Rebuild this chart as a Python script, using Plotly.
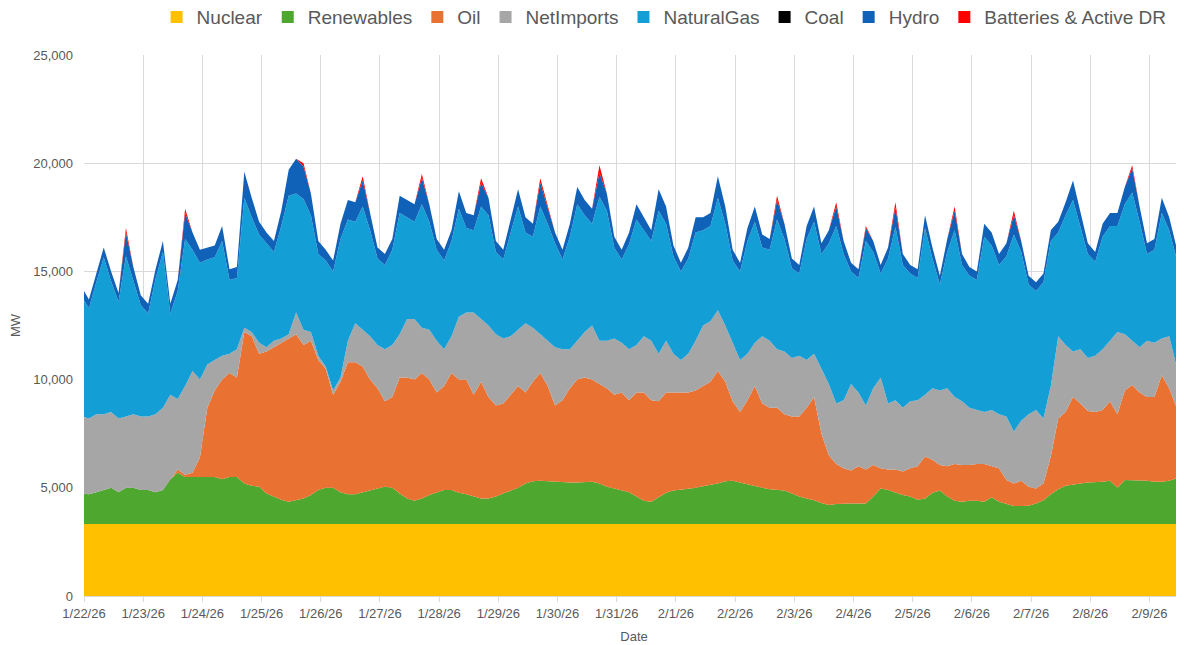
import pandas as pd
import plotly.graph_objects as go

# Sample times (every 3 hours)
times = pd.date_range("2026-01-21 23:00", periods=150, freq="3h")

# Stack boundaries, in thousands of MW (top edge of each layer)
nuclear_level_k = 3.33

renewables_top_k = [
    4.74,
    4.7, 4.8, 4.9, 5.0, 4.8, 5.0, 5.0, 4.9,
    4.9, 4.8, 4.9, 5.4, 5.7, 5.5, 5.5, 5.5,
    5.5, 5.5, 5.4, 5.5, 5.5, 5.2, 5.1, 5.05,
    4.74, 4.6, 4.45, 4.36, 4.43, 4.5, 4.67, 4.9,
    5.0, 5.0, 4.8, 4.7, 4.7, 4.8, 4.87, 4.97,
    5.05, 5.0, 4.74, 4.5, 4.4, 4.5, 4.67, 4.8,
    4.9, 4.9, 4.77, 4.7, 4.6, 4.5, 4.5, 4.6,
    4.74, 4.87, 5.0, 5.2, 5.3, 5.33, 5.3, 5.27,
    5.24, 5.24, 5.24, 5.27, 5.28, 5.2, 5.05, 4.97,
    4.9, 4.8, 4.6, 4.4, 4.36, 4.56, 4.77, 4.87,
    4.9, 4.96, 5.0, 5.08, 5.14, 5.2, 5.3, 5.33,
    5.24, 5.17, 5.08, 5.0, 4.93, 4.9, 4.87, 4.74,
    4.6, 4.5, 4.43, 4.3, 4.2, 4.25, 4.28, 4.28,
    4.28, 4.28, 4.6, 4.97, 4.9, 4.77, 4.67, 4.6,
    4.45, 4.5, 4.77, 4.87, 4.6, 4.4, 4.36, 4.4,
    4.4, 4.36, 4.56, 4.36, 4.25, 4.16, 4.16, 4.17,
    4.28, 4.43, 4.7, 4.93, 5.1, 5.16, 5.2, 5.24,
    5.25, 5.28, 5.33, 5.0, 5.36, 5.36, 5.36, 5.33,
    5.28, 5.28, 5.33, 5.44, 5.4,
]

oil_top_k = [
    4.74,
    4.7, 4.8, 4.9, 5.0, 4.8, 5.0, 5.0, 4.9,
    4.9, 4.8, 4.9, 5.4, 5.85, 5.6, 5.7, 6.4,
    8.7, 9.5, 10.0, 10.3, 10.1, 12.2, 12.0, 11.2,
    11.3, 11.5, 11.7, 11.9, 12.1, 11.6, 11.8, 10.9,
    10.5, 9.3, 9.9, 10.8, 10.8, 10.6, 10.0, 9.6,
    9.0, 9.2, 10.1, 10.1, 10.0, 10.3, 10.0, 9.4,
    9.7, 10.3, 10.0, 10.0, 9.3, 9.9, 9.2, 8.8,
    8.9, 9.3, 9.7, 9.4, 9.9, 10.3, 9.7, 8.8,
    9.05, 9.6, 10.0, 10.1, 10.0, 9.8, 9.6, 9.3,
    9.4, 9.05, 9.4, 9.4, 9.05, 9.0, 9.4, 9.4,
    9.4, 9.4, 9.5, 9.7, 9.9, 10.4, 9.9, 9.0,
    8.5, 9.05, 9.7, 8.9, 8.7, 8.7, 8.4, 8.3,
    8.3, 8.7, 9.2, 7.5, 6.5, 6.1, 5.9, 5.8,
    6.0, 5.85, 6.05, 5.9, 5.85, 5.85, 5.75, 5.9,
    6.0, 6.45, 6.3, 6.05, 6.0, 6.1, 6.05, 6.05,
    6.1, 6.1, 6.0, 5.9, 5.36, 5.2, 5.33, 5.05,
    4.97, 5.2, 6.45, 8.2, 8.5, 9.2, 8.9, 8.55,
    8.5, 8.6, 9.0, 8.4, 9.5, 9.75, 9.4, 9.2,
    9.2, 10.2, 9.6, 8.7, 8.0,
]

netimports_top_k = [
    8.3,
    8.2, 8.4, 8.4, 8.5, 8.2, 8.3, 8.4, 8.3,
    8.3, 8.4, 8.7, 9.3, 9.1, 9.7, 10.4, 10.0,
    10.7, 10.9, 11.1, 11.2, 11.4, 12.4, 12.2, 11.7,
    11.5, 11.8, 11.9, 12.1, 13.1, 12.3, 12.2, 11.1,
    10.6, 9.5, 10.1, 11.8, 12.6, 12.3, 12.0, 11.6,
    11.4, 11.6, 12.1, 12.8, 12.8, 12.4, 12.3, 11.8,
    11.4, 12.0, 12.9, 13.1, 13.1, 12.8, 12.5, 12.1,
    11.9, 12.0, 12.3, 12.6, 12.4, 12.1, 11.8, 11.5,
    11.4, 11.4, 11.8, 12.2, 12.5, 11.8, 11.8, 11.9,
    11.7, 11.4, 11.6, 12.0, 11.8, 11.2, 11.8, 11.2,
    10.9, 11.2, 11.8, 12.5, 12.7, 13.2, 12.5, 11.7,
    10.9, 11.2, 11.7, 12.0, 11.8, 11.4, 11.3, 11.0,
    11.1, 10.9, 11.2, 10.5, 9.8, 8.9, 9.05, 9.8,
    9.4, 8.8, 9.6, 10.1, 8.9, 9.05, 8.7, 9.0,
    9.05, 9.3, 9.6, 9.5, 9.6, 9.2, 9.0, 8.7,
    8.6, 8.5, 8.6, 8.4, 8.3, 7.6, 8.1, 8.4,
    8.6, 8.2, 9.7, 12.0, 11.6, 11.3, 11.4, 11.0,
    11.1, 11.4, 11.8, 12.2, 12.1, 11.8, 11.5, 11.8,
    11.7, 11.9, 12.0, 10.6, 9.5,
]

total_top_k = [
    14.3,
    13.7, 14.9, 16.1, 15.0, 14.0, 17.0, 15.2, 13.9,
    13.5, 15.1, 16.4, 13.5, 14.6, 17.9, 16.8, 16.0,
    16.1, 16.2, 17.1, 15.1, 15.2, 19.6, 18.4, 17.3,
    16.8, 16.4, 17.8, 19.7, 20.2, 20.0, 18.6, 16.4,
    16.0, 15.5, 17.2, 18.3, 18.2, 19.4, 17.7, 16.1,
    15.8, 16.5, 18.5, 18.3, 18.1, 19.5, 18.1, 16.5,
    16.0, 16.9, 18.7, 17.7, 17.6, 19.3, 18.4, 16.4,
    16.0, 17.4, 18.8, 17.5, 17.2, 19.3, 18.0, 16.8,
    16.0, 17.2, 18.9, 18.3, 17.9, 19.9, 18.6, 16.6,
    16.0, 16.8, 18.1, 17.5, 16.9, 18.8, 18.0, 16.2,
    15.4, 16.1, 17.5, 17.5, 17.7, 19.4, 18.0, 16.0,
    15.4, 17.0, 18.0, 16.7, 16.5, 18.5, 17.2, 15.6,
    15.3, 17.1, 18.0, 16.3, 16.9, 18.2, 16.4, 15.4,
    15.1, 17.1, 16.4, 15.3, 16.1, 18.2, 15.8, 15.3,
    15.1, 17.6, 16.1, 14.8, 16.5, 18.0, 15.8, 15.2,
    15.0, 17.2, 16.8, 15.8, 16.3, 17.8, 16.4, 14.8,
    14.5, 14.9, 16.9, 17.3, 18.2, 19.2, 17.8, 16.3,
    15.9, 17.2, 17.7, 17.7, 18.9, 19.9, 18.0, 16.3,
    16.5, 18.4, 17.5, 16.1, 16.5,
]

hydro_k = [
    0.45,
    0.4, 0.4, 0.45, 0.45, 0.4, 1.1, 0.6, 0.45,
    0.45, 0.45, 0.5, 0.45, 0.5, 1.2, 0.8, 0.6,
    0.55, 0.55, 0.7, 0.5, 0.5, 1.2, 0.9, 0.6,
    0.5, 0.5, 0.7, 1.2, 1.6, 1.5, 1.0, 0.6,
    0.5, 0.5, 0.7, 0.9, 0.9, 1.2, 0.8, 0.5,
    0.5, 0.5, 0.8, 0.8, 0.8, 1.2, 0.8, 0.5,
    0.5, 0.5, 0.8, 0.7, 0.7, 1.1, 0.8, 0.5,
    0.45, 0.6, 0.8, 0.7, 0.6, 1.1, 0.8, 0.5,
    0.45, 0.6, 0.8, 0.7, 0.7, 1.1, 0.8, 0.5,
    0.45, 0.55, 0.7, 0.6, 0.5, 1.0, 0.8, 0.5,
    0.4, 0.5, 0.7, 0.6, 0.6, 1.0, 0.8, 0.5,
    0.4, 0.6, 0.7, 0.6, 0.5, 0.9, 0.7, 0.45,
    0.4, 0.6, 0.7, 0.5, 0.6, 0.9, 0.6, 0.4,
    0.4, 0.6, 0.5, 0.4, 0.5, 0.9, 0.5, 0.4,
    0.4, 0.6, 0.5, 0.4, 0.6, 0.9, 0.5, 0.4,
    0.4, 0.6, 0.6, 0.5, 0.6, 0.9, 0.5, 0.4,
    0.4, 0.4, 0.5, 0.5, 0.6, 0.9, 0.7, 0.5,
    0.45, 0.6, 0.6, 0.6, 0.8, 1.1, 0.7, 0.5,
    0.5, 0.7, 0.6, 0.5, 0.5,
]

batteries_k = [
    0,
    0, 0, 0, 0, 0, 0.2, 0, 0,
    0, 0, 0, 0, 0, 0.2, 0, 0,
    0, 0, 0, 0, 0, 0, 0, 0,
    0, 0, 0, 0, 0, 0.15, 0, 0,
    0, 0, 0, 0, 0, 0.2, 0, 0,
    0, 0, 0, 0, 0, 0.2, 0, 0,
    0, 0, 0, 0, 0, 0.2, 0, 0,
    0, 0, 0, 0, 0, 0.2, 0, 0,
    0, 0, 0, 0, 0, 0.35, 0, 0,
    0, 0, 0, 0, 0, 0, 0, 0,
    0, 0, 0, 0, 0, 0, 0, 0,
    0, 0, 0, 0, 0, 0.2, 0, 0,
    0, 0, 0, 0, 0, 0.2, 0, 0,
    0, 0.1, 0, 0, 0, 0.25, 0, 0,
    0, 0, 0, 0, 0, 0.2, 0, 0,
    0, 0, 0, 0, 0, 0.2, 0, 0,
    0, 0, 0, 0, 0, 0, 0, 0,
    0, 0, 0, 0, 0, 0.15, 0, 0,
    0, 0, 0, 0, 0,
]

# Per-source MW derived from the read stack boundaries
n = len(times)
nuclear = [nuclear_level_k * 1000] * n
renewables = [(g - nuclear_level_k) * 1000 for g in renewables_top_k]
oil = [(o - g) * 1000 for o, g in zip(oil_top_k, renewables_top_k)]
netimports = [(ni - o) * 1000 for ni, o in zip(netimports_top_k, oil_top_k)]
naturalgas = [(t - b - h - ni) * 1000 for t, b, h, ni in
              zip(total_top_k, batteries_k, hydro_k, netimports_top_k)]
coal = [0] * n
hydro = [h * 1000 for h in hydro_k]
batteries = [b * 1000 for b in batteries_k]

series = [
    ("Nuclear", nuclear, "#FFC000"),
    ("Renewables", renewables, "#4EA72E"),
    ("Oil", oil, "#E97132"),
    ("NetImports", netimports, "#A6A6A6"),
    ("NaturalGas", naturalgas, "#139ED6"),
    ("Coal", coal, "#000000"),
    ("Hydro", hydro, "#0F62B8"),
    ("Batteries & Active DR", batteries, "#FF0000"),
]

fig = go.Figure()
for name, vals, color in series:
    fig.add_trace(go.Scatter(
        x=times, y=vals, name=name, stackgroup="one", mode="lines",
        line=dict(width=0, color=color), fillcolor=color, showlegend=False,
    ))
# Legend entries with square swatches
for name, vals, color in series:
    fig.add_trace(go.Scatter(
        x=[None], y=[None], name=name, mode="markers",
        marker=dict(symbol="square", size=12, color=color), showlegend=True,
    ))

font_family = "Liberation Sans, Arial, sans-serif"
grey = "#595959"
grid = "#D9D9D9"

fig.update_layout(
    width=1176, height=637,
    margin=dict(l=76, r=0, t=47, b=49, autoexpand=False),
    paper_bgcolor="white", plot_bgcolor="white",
    font=dict(family=font_family, color=grey, size=13),
    legend=dict(orientation="h", x=0.066, xanchor="left", y=1.07, yanchor="middle",
                font=dict(size=19, color=grey), bgcolor="rgba(0,0,0,0)",
                traceorder="normal"),
    showlegend=True,
)
fig.update_xaxes(
    type="date",
    range=["2026-01-22 00:00", "2026-02-09 14:00"],
    tick0="2026-01-22", dtick=86400000, tickformat="%-m/%-d/%y",
    showgrid=True, gridcolor=grid, gridwidth=1,
    ticks="outside", ticklen=5, tickcolor=grid,
    showline=True, linecolor=grid,
    tickfont=dict(size=13, color=grey),
    title=dict(text="Date", font=dict(size=13, color=grey), standoff=12),
)
fig.update_yaxes(
    range=[0, 25000], dtick=5000, tickformat=",",
    showgrid=True, gridcolor=grid, gridwidth=1, zeroline=False,
    tickfont=dict(size=13, color=grey), ticklabelstandoff=10,
    title=dict(text="MW", font=dict(size=13, color=grey), standoff=10),
)

fig.write_html("out.html")
